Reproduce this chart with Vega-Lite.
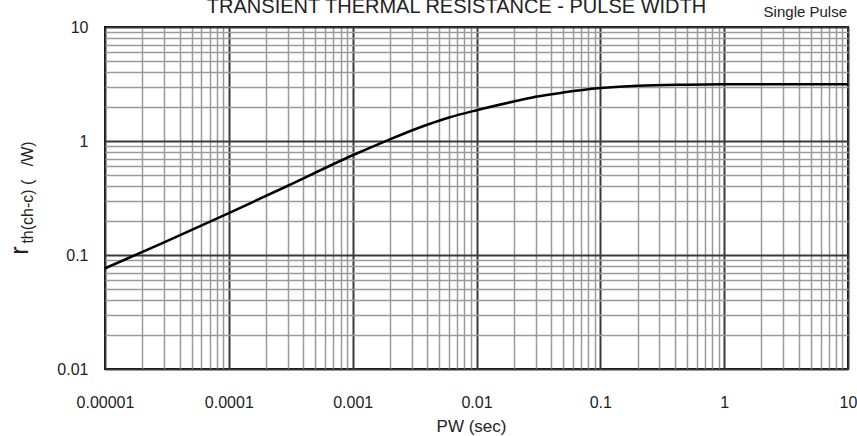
{
  "$schema": "https://vega.github.io/schema/vega-lite/v6.json",
  "width": 743,
  "height": 342,
  "autosize": {"type": "none"},
  "padding": {"left": 105, "top": 27, "right": 9, "bottom": 67},
  "background": "white",
  "config": {
    "view": {"stroke": "#000000", "strokeWidth": 2},
    "font": "Liberation Sans",
    "axis": {
      "labelFont": "Liberation Sans",
      "titleFont": "Liberation Sans",
      "labelColor": "#222222",
      "titleColor": "#222222",
      "titleFontWeight": "normal",
      "domain": false,
      "ticks": false,
      "tickSize": 0,
      "labelOverlap": false,
      "labelFlush": false,
      "labelBound": false
    }
  },
  "resolve": {"axis": {"x": "independent", "y": "independent"}},
  "layer": [
    {
      "data": {
        "values": [
          {"pw": 0.00001, "r": 0.0764},
          {"pw": 0.00003, "r": 0.129},
          {"pw": 0.0001, "r": 0.233},
          {"pw": 0.0003, "r": 0.405},
          {"pw": 0.001, "r": 0.75},
          {"pw": 0.002, "r": 1.035},
          {"pw": 0.003, "r": 1.236},
          {"pw": 0.004, "r": 1.387},
          {"pw": 0.006, "r": 1.606},
          {"pw": 0.01, "r": 1.862},
          {"pw": 0.02, "r": 2.22},
          {"pw": 0.03, "r": 2.44},
          {"pw": 0.05, "r": 2.66},
          {"pw": 0.1, "r": 2.91},
          {"pw": 0.2, "r": 3.06},
          {"pw": 0.5, "r": 3.12},
          {"pw": 1, "r": 3.14},
          {"pw": 10, "r": 3.14}
        ]
      },
      "mark": {"type": "line", "color": "#000000", "strokeWidth": 2.5, "interpolate": "monotone"},
      "encoding": {
        "x": {
          "field": "pw",
          "type": "quantitative",
          "scale": {"type": "log", "domain": [0.00001, 10], "nice": false},
          "axis": {
            "orient": "bottom",
            "values": [0.00001,0.00002,0.00003,0.00004,0.00005,0.00006,0.00007,0.00008,0.00009,
                       0.0001,0.0002,0.0003,0.0004,0.0005,0.0006,0.0007,0.0008,0.0009,
                       0.001,0.002,0.003,0.004,0.005,0.006,0.007,0.008,0.009,
                       0.01,0.02,0.03,0.04,0.05,0.06,0.07,0.08,0.09,
                       0.1,0.2,0.3,0.4,0.5,0.6,0.7,0.8,0.9,
                       1,2,3,4,5,6,7,8,9,10],
            "labelExpr": "abs(log(datum.value)/LN10 - round(log(datum.value)/LN10)) < 0.001 ? format(datum.value, '~f') : ''",
            "labelFontSize": 16,
            "labelBaseline": "alphabetic",
            "labelPadding": 38,
            "grid": true,
            "gridColor": {"condition": {"test": "abs(log(datum.value)/LN10 - round(log(datum.value)/LN10)) < 0.001", "value": "#3a3a3a"}, "value": "#9a9a9a"},
            "gridWidth": {"condition": {"test": "abs(log(datum.value)/LN10 - round(log(datum.value)/LN10)) < 0.001", "value": 2}, "value": 1.5},
            "title": "PW (sec)",
            "titleFontSize": 17,
            "titleX": 366,
            "titleY": 62,
            "titleAlign": "center",
            "titleBaseline": "alphabetic",
            "titleAngle": 0
          }
        },
        "y": {
          "field": "r",
          "type": "quantitative",
          "scale": {"type": "log", "domain": [0.01, 10], "nice": false},
          "axis": {
            "orient": "left",
            "values": [0.01,0.02,0.03,0.04,0.05,0.06,0.07,0.08,0.09,
                       0.1,0.2,0.3,0.4,0.5,0.6,0.7,0.8,0.9,
                       1,2,3,4,5,6,7,8,9,10],
            "labelExpr": "abs(log(datum.value)/LN10 - round(log(datum.value)/LN10)) < 0.001 ? format(datum.value, '~f') : ''",
            "labelFontSize": 16,
            "labelPadding": 17,
            "labelBaseline": "middle",
            "grid": true,
            "gridColor": {"condition": {"test": "abs(log(datum.value)/LN10 - round(log(datum.value)/LN10)) < 0.001", "value": "#3a3a3a"}, "value": "#9a9a9a"},
            "gridWidth": {"condition": {"test": "abs(log(datum.value)/LN10 - round(log(datum.value)/LN10)) < 0.001", "value": 2}, "value": 1.5},
            "title": "th(ch-c) (\u00a0\u00a0\u00a0/W)",
            "titleFontSize": 16,
            "titleAngle": -90,
            "titleX": -73,
            "titleY": 165,
            "titleAlign": "center",
            "titleBaseline": "alphabetic"
          }
        }
      }
    },
    {
      "data": {"values": [{"note": "Single Pulse"}]},
      "mark": {"type": "text", "align": "right", "baseline": "alphabetic", "dy": -10, "dx": -1, "fontSize": 15, "fontWeight": "normal", "font": "Liberation Sans", "color": "#222222"},
      "encoding": {
        "text": {"field": "note", "type": "nominal"},
        "x": {
          "datum": 10,
          "type": "quantitative",
          "axis": {
            "orient": "top",
            "labels": false,
            "grid": false,
            "title": "TRANSIENT THERMAL RESISTANCE - PULSE WIDTH",
            "titleFontSize": 20,
            "titleX": 351,
            "titleY": -15,
            "titleAlign": "center",
            "titleBaseline": "alphabetic",
            "titleAngle": 0
          }
        },
        "y": {
          "datum": 10,
          "type": "quantitative",
          "axis": {
            "orient": "left",
            "labels": false,
            "grid": false,
            "title": "r",
            "titleFontSize": 25,
            "titleAngle": -90,
            "titleX": -78,
            "titleY": 223,
            "titleAlign": "center",
            "titleBaseline": "alphabetic"
          }
        }
      }
    }
  ]
}
